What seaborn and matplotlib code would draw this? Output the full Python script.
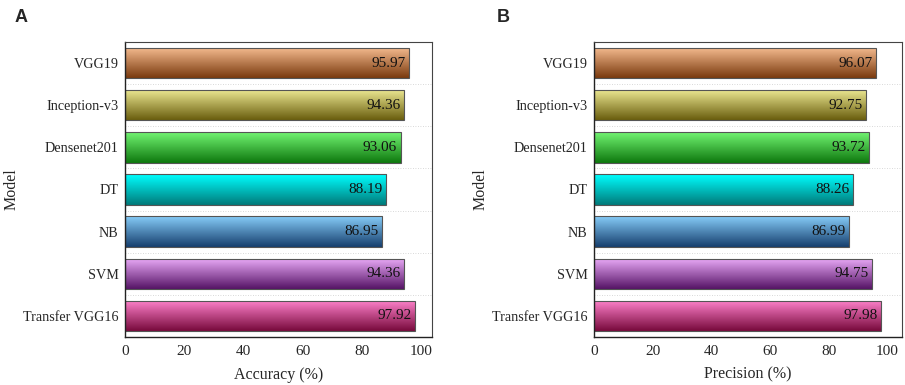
import numpy as np
import pandas as pd
import matplotlib
matplotlib.use("Agg")
import matplotlib.pyplot as plt
import matplotlib.colors as mcolors
import seaborn as sns

models = ["VGG19", "Inception-v3", "Densenet201", "DT", "NB", "SVM", "Transfer VGG16"]
accuracy = [95.97, 94.36, 93.06, 88.19, 86.95, 94.36, 97.92]
precision = [96.07, 92.75, 93.72, 88.26, 86.99, 94.75, 97.98]
top_colors = ["#f6bc90", "#eeea94", "#72f472", "#00ffff", "#86ccf8", "#eaaaf8", "#ff82cc"]
bottom_colors = ["#7a3a0e", "#6a5e0e", "#0e780e", "#007a7a", "#163f6e", "#561466", "#780a3c"]
xticks = [0, 20, 40, 60, 80, 100]

sns.set_theme(style="white")
plt.rcParams["font.family"] = ["Liberation Serif", "DejaVu Serif"]

fig = plt.figure(figsize=(9.05, 3.85), dpi=100)
axA = fig.add_axes([125/905, 1-337/385, 307/905, 295/385])
axB = fig.add_axes([594/905, 1-337/385, 308/905, 295/385])


def panel(ax, vals, xlabel, xmax):
    df = pd.DataFrame({"Model": models, "v": vals})
    sns.barplot(data=df, x="v", y="Model", orient="h", ax=ax, width=0.72,
                color="white", edgecolor="#555555", linewidth=0.8)
    for i, p in enumerate(ax.patches):
        x0, y0 = p.get_x(), p.get_y()
        w, h = p.get_width(), p.get_height()
        c1 = np.array(mcolors.to_rgb(top_colors[i]))
        c2 = np.array(mcolors.to_rgb(bottom_colors[i]))
        t = np.linspace(0, 1, 64)[:, None]
        grad = (c1 * (1 - t) + c2 * t)[:, None, :]
        im = ax.imshow(grad, extent=(x0, x0 + w, y0 + h, y0), origin="upper",
                       aspect="auto", zorder=p.get_zorder() - 0.1, interpolation="bilinear")
        im.set_clip_path(p)
        p.set_facecolor("none")
        ax.text(x0 + w - 1.2, y0 + h / 2, f"{vals[i]:.2f}", ha="right", va="center",
                fontsize=11, color="#111111", zorder=5)
    for k in range(len(models) - 1):
        ax.axhline(k + 0.5, color="#cccccc", lw=0.6, ls=(0, (1, 2)), zorder=0)
    ax.set_xlim(0, xmax)
    ax.set_ylim(len(models) - 0.5, -0.5)
    ax.set_xticks(xticks)
    ax.set_xticklabels([str(x) for x in xticks], fontsize=11)
    ax.tick_params(axis="y", labelsize=10.2, length=0, pad=4.5)
    ax.tick_params(axis="x", length=0, pad=6)
    ax.set_xlabel(xlabel, fontsize=11.5, labelpad=6)
    ax.set_ylabel("Model", fontsize=11.5)
    ax.yaxis.set_label_coords(-105 / 307, 0.5)
    for s in ["left", "bottom"]:
        ax.spines[s].set_color("#222222")
        ax.spines[s].set_linewidth(1.0)
    for s in ["top", "right"]:
        ax.spines[s].set_color("#444444")
        ax.spines[s].set_linewidth(0.8)


panel(axA, accuracy, "Accuracy (%)", 103.7)
panel(axB, precision, "Precision (%)", 105.0)

fig.text(15/905, 1-18/385, "A", fontsize=13, fontweight="bold",
         family=["Liberation Sans", "DejaVu Sans"], va="center", ha="left")
fig.text(497/905, 1-18/385, "B", fontsize=13, fontweight="bold",
         family=["Liberation Sans", "DejaVu Sans"], va="center", ha="left")

fig.savefig("out.png", dpi=100)
